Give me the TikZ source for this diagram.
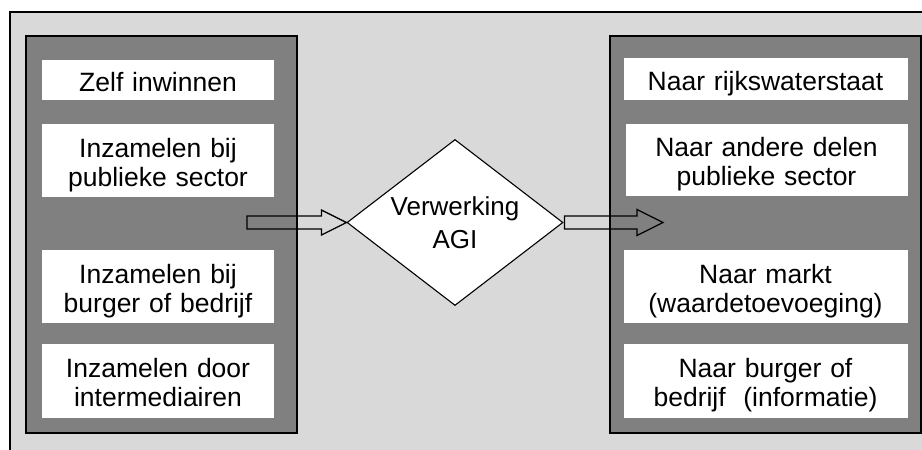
\documentclass[tikz,border=0pt]{standalone}
\usepackage{fontspec}
\setmainfont{Liberation Sans}
\usetikzlibrary{shapes.geometric,calc}
\definecolor{bglight}{HTML}{D9D9D9}
\definecolor{panelgray}{HTML}{808080}
\tikzset{
  outerbox/.style={draw=black, line width=1.1pt, fill=bglight},
  panel/.style={draw=black, line width=1.4pt, fill=panelgray},
  itembox/.style={fill=white, draw=none, inner sep=0pt, align=center,
    text width=220pt, font=\fontsize{26.5}{29}\selectfont},
  oneline/.style={itembox, text height=26pt, text depth=4pt},
  twoline/.style={itembox, text height=26pt, text depth=33pt},
  procdia/.style={diamond, draw=black, line width=1.1pt, fill=white, aspect=1.3,
    minimum width=216pt, minimum height=166pt, inner sep=0pt, align=center,
    font=\fontsize{26}{33}\selectfont},
  blockarr/.style={draw=black, line width=1.3pt, line join=miter}
}
\begin{document}
\begin{tikzpicture}[x=1pt,y=-1pt]
\useasboundingbox (0,0) rectangle (922,450);
\clip (0,0) rectangle (922,450);
\path[outerbox] (10,12) rectangle (930,460);
% panels
\path[panel] (26,36) rectangle (297,433);
\path[panel] (610,36) rectangle (921,433);
% left boxes
\node[oneline, minimum width=232pt, minimum height=40pt] (l1) at (158,80) {Zelf inwinnen};
\node[twoline, minimum width=232pt, minimum height=73pt] (l2) at (158,160.5) {Inzamelen bij\\publieke sector};
\node[twoline, minimum width=232pt, minimum height=73pt] (l3) at (158,286.5) {Inzamelen bij\\burger of bedrijf};
\node[twoline, minimum width=232pt, minimum height=74pt] (l4) at (158,381) {Inzamelen door\\intermediairen};
% right boxes
\node[oneline, text width=270pt, minimum width=284pt, minimum height=42pt] (r1) at (765.5,79) {Naar rijkswaterstaat};
\node[twoline, text width=270pt, minimum width=282pt, minimum height=72pt] (r2) at (766.5,160) {Naar andere delen\\publieke sector};
\node[twoline, text width=270pt, minimum width=284pt, minimum height=73pt] (r3) at (765.5,286.5) {Naar markt\\(waardetoevoeging)};
\node[twoline, text width=270pt, minimum width=284pt, minimum height=74pt] (r4) at (765.5,381) {Naar burger of\\bedrijf\ \ (informatie)};
% diamond
\node[procdia] (dia) at (455,222.5) {Verwerking\\AGI};
% arrows
\coordinate (la) at (247,222.5);
\coordinate (rt) at (663,222.5);
\draw[blockarr] (dia.west) -- ++(-25,-12.5) -- ++(0,6) -- ($(la)+(0,-6.5)$) -- ($(la)+(0,6.5)$) -- ($(dia.west)+(-25,6.5)$) -- ++(0,6) -- cycle;
\draw[blockarr] (rt) -- ++(-26,-13) -- ++(0,6.5) -- ($(dia.east)+(1,-6.5)$) -- ($(dia.east)+(1,6.5)$) -- ($(rt)+(-26,6.5)$) -- ++(0,6.5) -- cycle;
\end{tikzpicture}
\end{document}
